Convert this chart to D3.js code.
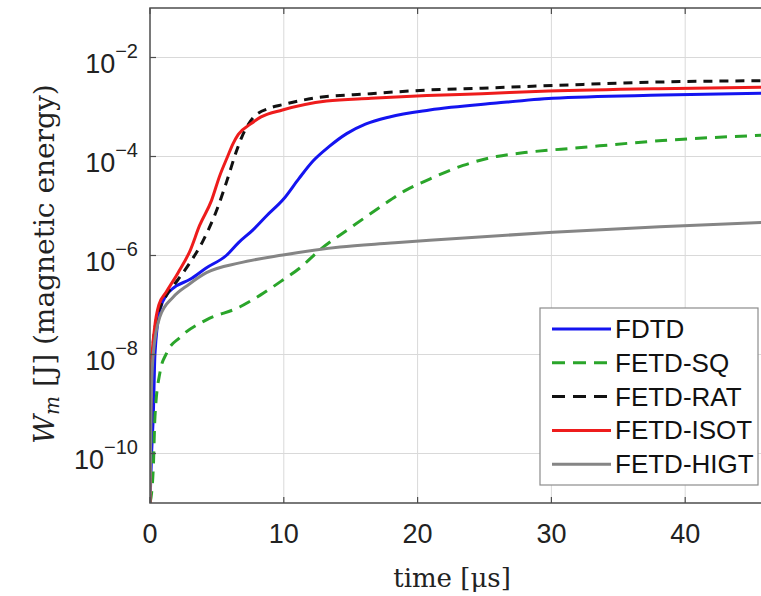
<!DOCTYPE html>
<html>
<head>
<meta charset="utf-8">
<script src="https://cdn.jsdelivr.net/npm/d3@7"></script>
<style>
  body { margin: 0; background: #fff; }
  svg { display: block; }
</style>
</head>
<body>
<svg id="chart" width="761" height="596"></svg>
<script>
// values (time in µs, energy in J)
const fdtdT = [0, 0.12, 0.25, 0.37, 0.74, 1.24, 1.74, 3.0, 4.2, 5.7, 6.6, 7.7, 8.7, 10, 11.1, 12.2, 13.4, 14.7, 16.1, 17.9, 20.9, 25.9, 30.1, 38.3, 46];
const fdtdW = [1e-11, 1e-10, 6.3e-10, 1e-8, 7.9e-8, 1.6e-7, 2.2e-7, 3.3e-7, 5.6e-7, 1e-6, 1.8e-6, 3.3e-6, 6.3e-6, 1.4e-5, 3.5e-5, 8.2e-5, 1.6e-4, 2.9e-4, 4.5e-4, 6.3e-4, 8.7e-4, 1.2e-3, 1.5e-3, 1.74e-3, 1.9e-3];

const sqT = [0, 0.12, 0.25, 0.37, 0.74, 1.24, 2.23, 4.22, 6.7, 8.27, 9.93, 11.2, 12.7, 14.9, 17.2, 19.0, 20.9, 23.4, 25.9, 28.0, 32.0, 38.3, 46];
const sqW = [1e-11, 1.6e-11, 5.4e-11, 5.5e-10, 4.3e-9, 1.07e-8, 2.2e-8, 5e-8, 9.1e-8, 1.6e-7, 3.2e-7, 5.6e-7, 1.3e-6, 3.5e-6, 9.5e-6, 2e-5, 3.5e-5, 6.6e-5, 1e-4, 1.2e-4, 1.5e-4, 2.1e-4, 2.7e-4];

const ratT = [0, 0.08, 0.41, 0.83, 1.24, 2.07, 2.98, 3.97, 4.96, 5.79, 6.45, 6.87, 7.69, 8.94, 9.93, 12.2, 16.5, 20.7, 24.8, 30.6, 38.1, 46];
const ratW = [1e-11, 3.2e-9, 4e-8, 1e-7, 1.6e-7, 3.2e-7, 7.1e-7, 2e-6, 7.9e-6, 3.5e-5, 1.26e-4, 2.5e-4, 6e-4, 9.5e-4, 1.12e-3, 1.5e-3, 1.86e-3, 2.2e-3, 2.4e-3, 2.75e-3, 3.2e-3, 3.4e-3];

const isotT = [0, 0.04, 0.12, 0.33, 0.66, 1.2, 2.1, 3.0, 3.7, 4.6, 5.2, 5.8, 6.2, 6.6, 7.5, 8.3, 9.9, 13.2, 16.5, 20.7, 24.8, 29.8, 38, 46];
const isotW = [1e-11, 3.2e-10, 6.3e-9, 3.2e-8, 1e-7, 1.8e-7, 4.5e-7, 1.26e-6, 4e-6, 1.3e-5, 4e-5, 1e-4, 1.8e-4, 2.8e-4, 4.5e-4, 6.3e-4, 8.7e-4, 1.32e-3, 1.5e-3, 1.7e-3, 1.86e-3, 2.1e-3, 2.35e-3, 2.5e-3];

const higtT = [0, 0.08, 0.25, 0.74, 1.74, 2.9, 4.22, 6.7, 9.93, 14.2, 18.0, 20.9, 30.1, 38.1, 46];
const higtW = [1e-11, 1e-9, 1.07e-8, 5.8e-8, 1.45e-7, 2.6e-7, 4.5e-7, 7.1e-7, 1.02e-6, 1.48e-6, 1.78e-6, 2.04e-6, 2.95e-6, 3.8e-6, 4.7e-6];

const seriesNames = ["FDTD", "FETD-SQ", "FETD-RAT", "FETD-ISOT", "FETD-HIGT"];
const xTicks = [0, 10, 20, 30, 40];
const yTickExps = [-10, -8, -6, -4, -2];

(() => {
  const margin = { top: 8, left: 150, bottom: 93 };
  const width = 761;
  const height = 596;
  const plotBottom = height - margin.bottom;

  const svg = d3.select("#chart");

  const x = d3.scaleLinear().domain([0, 46]).range([margin.left, margin.left + 46 * 13.38]);
  const y = d3.scaleLog().domain([1e-11, 1e-1]).range([plotBottom, margin.top]);

  const styles = [
    { color: "#1414f0", dash: null },
    { color: "#2aa52a", dash: "12,8" },
    { color: "#111", dash: "9,7" },
    { color: "#ee1c1c", dash: null },
    { color: "#858585", dash: null }
  ];

  const series = [
    [fdtdT, fdtdW], [sqT, sqW], [ratT, ratW], [isotT, isotW], [higtT, higtW]
  ].map(([t, w], i) => ({
    name: seriesNames[i],
    style: styles[i],
    values: t.map((tt, k) => ({ t: tt, w: w[k] }))
  }));

  svg.append("defs").append("clipPath").attr("id", "plot-clip")
    .append("rect")
    .attr("x", margin.left)
    .attr("y", margin.top)
    .attr("width", width - margin.left)
    .attr("height", plotBottom - margin.top);

  // grid
  const grid = svg.append("g").attr("stroke", "#d9d9d9").attr("stroke-width", 1);
  grid.selectAll(".vg").data(xTicks.slice(1)).join("line")
    .attr("x1", d => x(d)).attr("x2", d => x(d))
    .attr("y1", margin.top).attr("y2", plotBottom);
  grid.selectAll(".hg").data(yTickExps).join("line")
    .attr("x1", margin.left).attr("x2", width)
    .attr("y1", d => y(Math.pow(10, d))).attr("y2", d => y(Math.pow(10, d)));

  // curves
  const line = d3.line()
    .x(d => x(d.t))
    .y(d => y(d.w))
    .curve(d3.curveMonotoneX);

  svg.append("g").attr("clip-path", "url(#plot-clip)")
    .selectAll("path")
    .data(series)
    .join("path")
    .attr("fill", "none")
    .attr("stroke", d => d.style.color)
    .attr("stroke-width", 3)
    .attr("stroke-dasharray", d => d.style.dash)
    .attr("d", d => line(d.values));

  // axes box and inward ticks
  const axisColor = "#4d4d4d";
  svg.append("path")
    .attr("d", `M${width + 5},${margin.top}H${margin.left}V${plotBottom}H${width + 5}`)
    .attr("fill", "none")
    .attr("stroke", axisColor)
    .attr("stroke-width", 1.5);

  const ticks = svg.append("g").attr("stroke", axisColor).attr("stroke-width", 1.2);
  ticks.selectAll(".xt").data(xTicks).join("line")
    .attr("x1", d => x(d)).attr("x2", d => x(d))
    .attr("y1", plotBottom).attr("y2", plotBottom - 6);
  ticks.selectAll(".xtt").data(xTicks).join("line")
    .attr("x1", d => x(d)).attr("x2", d => x(d))
    .attr("y1", margin.top).attr("y2", margin.top + 6);
  ticks.selectAll(".yt").data(yTickExps).join("line")
    .attr("x1", margin.left).attr("x2", margin.left + 6)
    .attr("y1", d => y(Math.pow(10, d))).attr("y2", d => y(Math.pow(10, d)));

  // tick labels
  svg.append("g")
    .selectAll("text")
    .data(xTicks)
    .join("text")
    .attr("x", d => x(d))
    .attr("y", 543)
    .attr("text-anchor", "middle")
    .style("font-family", "'Liberation Sans', Arial, sans-serif")
    .style("font-size", "27px")
    .attr("fill", "#222")
    .text(d => d);

  const yl = svg.append("g")
    .selectAll("text")
    .data(yTickExps)
    .join("text")
    .attr("x", 138)
    .attr("y", d => y(Math.pow(10, d)) + 15)
    .attr("text-anchor", "end")
    .style("font-family", "'Liberation Sans', Arial, sans-serif")
    .style("font-size", "27px")
    .attr("fill", "#222");
  yl.append("tspan").text("10");
  yl.append("tspan")
    .attr("dy", -15)
    .style("font-size", "20px")
    .text(d => "\u2212" + Math.abs(d));

  // axis titles
  svg.append("text")
    .attr("x", 452)
    .attr("y", 587)
    .attr("text-anchor", "middle")
    .style("font-family", "'DejaVu Serif', serif")
    .style("font-size", "26px")
    .attr("fill", "#222")
    .text("time [μs]");

  const yTitle = svg.append("text")
    .attr("transform", "translate(54, 264) rotate(-90)")
    .attr("text-anchor", "middle")
    .style("font-family", "'DejaVu Serif', serif")
    .style("font-size", "28px")
    .attr("fill", "#222");
  yTitle.append("tspan").style("font-style", "italic").text("W");
  yTitle.append("tspan").style("font-style", "italic").style("font-size", "20px").attr("dy", 5).text("m");
  yTitle.append("tspan").attr("dy", -5).text(" [J] (magnetic energy)");

  // legend
  const legend = svg.append("g");
  legend.append("rect")
    .attr("x", 540).attr("y", 308)
    .attr("width", 218).attr("height", 177)
    .attr("fill", "#fff")
    .attr("stroke", "#8c8c8c")
    .attr("stroke-width", 1.2);

  const rows = legend.selectAll(".row")
    .data(series)
    .join("g")
    .attr("transform", (d, i) => `translate(0, ${329 + i * 33.8})`);

  rows.append("line")
    .attr("x1", 552).attr("x2", 611)
    .attr("y1", 0).attr("y2", 0)
    .attr("stroke", d => d.style.color)
    .attr("stroke-width", 3)
    .attr("stroke-dasharray", d => d.style.dash ? "13,8" : null);

  rows.append("text")
    .attr("x", 615)
    .attr("y", 9)
    .style("font-family", "'Liberation Sans', Arial, sans-serif")
    .style("font-size", "26px")
    .attr("fill", "#111")
    .text(d => d.name);
})();
</script>
</body>
</html>
